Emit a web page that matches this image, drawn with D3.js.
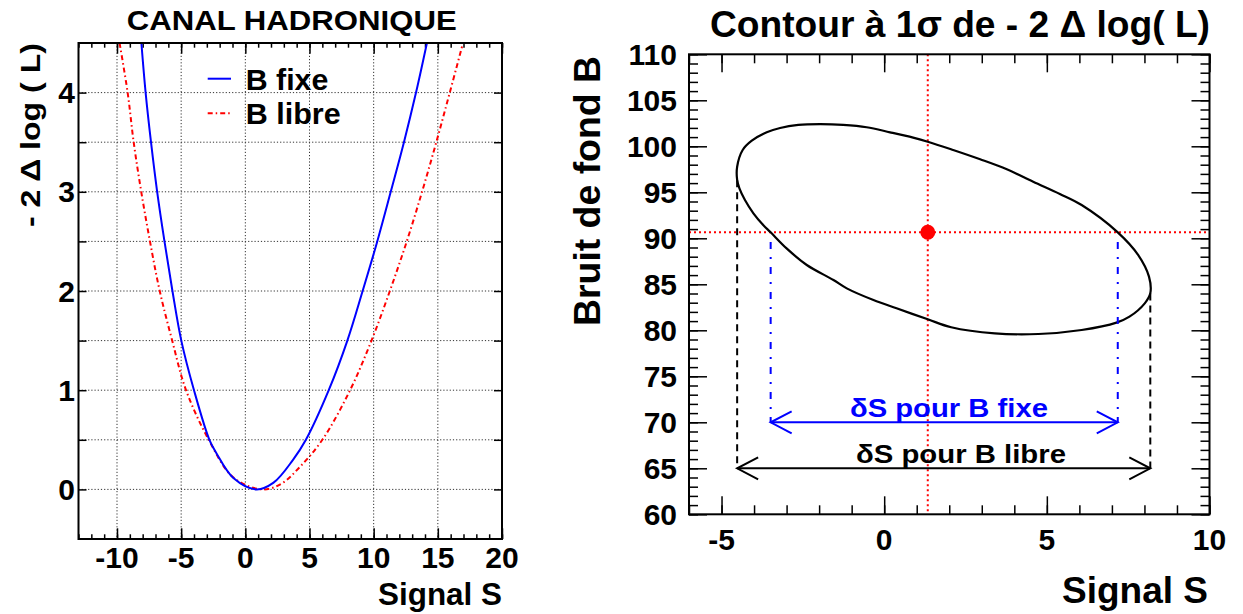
<!DOCTYPE html>
<html><head><meta charset="utf-8">
<script src="https://cdn.jsdelivr.net/npm/d3@7/dist/d3.min.js"></script>
<style>
html,body{margin:0;padding:0;background:#fff;}
svg{display:block;font-family:"Liberation Sans",Arial,Helvetica,sans-serif;font-weight:bold;}
</style></head>
<body>
<svg id="c" width="1243" height="614"></svg>
<script>
// ---------- data : left panel (-2 Δ log L vs S) ----------
const fixeS = [-8.1,-7.77,-7.35,-6.87,-6.3,-5.68,-4.99,-4.0,-2.8,-2.23,-0.93,0.85,2.2,3.7,4.72,6.5,7.95,9.14,10.28,11.33,12.36,13.3,14.15];
const fixeV = [4.5,4.0,3.5,3.0,2.5,2.0,1.5,1.0,0.5,0.36,0.115,0,0.068,0.295,0.5,1.0,1.5,2.0,2.5,3.0,3.5,4.0,4.5];
const libreS = [-9.8,-9.17,-8.7,-8.11,-7.43,-6.67,-5.7,-4.62,-2.85,-0.93,1.37,2.84,4.26,6.0,8.16,9.83,11.26,12.58,13.77,14.88,15.93,16.96];
const libreV = [4.5,4.0,3.5,3.0,2.5,2.0,1.5,1.0,0.5,0.12,0,0.06,0.228,0.5,1.0,1.5,2.0,2.5,3.0,3.5,4.0,4.5];
const leftXTicks = [-10,-5,0,5,10,15,20];
const leftYTicks = [0,1,2,3,4];
const leftYGrid = [0,0.5,1,1.5,2,2.5,3,3.5,4];
const legendLabels = ["B fixe","B libre"];

// ---------- data : right panel (1σ contour in S,B) ----------
const contourS = [-4.52,-4.52,-4.35,-4.07,-3.61,-3.20,-2.64,-1.97,-1.26,-0.54,0.18,0.89,1.34,2.12,2.95,3.77,4.58,5.40,6.07,7.18,7.81,8.14,8.18,8.01,7.54,7.14,6.07,4.74,3.40,2.06,1.34,0.38,-0.33,-1.15,-1.56,-2.38,-3.00,-3.49,-3.72,-4.02,-4.28,-4.45];
const contourB = [96.34,97.78,99.6,100.61,101.52,101.99,102.32,102.4,102.32,102.07,101.52,100.94,100.5,99.6,98.59,97.5,96.15,94.82,93.62,90.65,88.18,85.83,84.02,82.93,81.48,80.83,80.03,79.6,79.67,80.33,81.2,82.39,83.29,84.56,85.47,87.1,88.9,90.65,91.45,92.72,94.16,95.43];
const bestFit = [1.34, 90.65];              // S, B
const fixeInterval = [-3.49, 7.18];         // δS for B fixe
const libreInterval = [-4.52, 8.18];        // δS for B libre
const libreTopB = [96.3, 84.0];             // where dashed verticals start
const fixeTopB = 89.6;
const arrowLevels = [70, 65];               // B of the two arrows
const arrowTexts = ["δS pour B fixe","δS pour B libre"];
const arrowTextS = [1.99, 2.36];
const rightXTicks = [-5,0,5,10];
const rightYTicks = [60,65,70,75,80,85,90,95,100,105,110];

// ---------- drawing ----------
const svg = d3.select("#c");
const FONT = 30;

// LEFT PANEL
const L = {x0:78.5, x1:502, y0:43, y1:539};
const xL = d3.scaleLinear().domain([-13,20]).range([L.x0,L.x1]);
const yL = d3.scaleLinear().domain([-0.5,4.5]).range([L.y1,L.y0]);
const gL = svg.append("g");

// grid
gL.append("g").selectAll("line").data(leftXTicks.filter(v=>v<20)).join("line")
  .attr("x1",d=>xL(d)).attr("x2",d=>xL(d)).attr("y1",L.y0).attr("y2",L.y1)
  .attr("stroke","#333").attr("stroke-width",1).attr("stroke-dasharray","1.2,2");
gL.append("g").selectAll("line").data(leftYGrid).join("line")
  .attr("y1",d=>yL(d)).attr("y2",d=>yL(d)).attr("x1",L.x0).attr("x2",L.x1)
  .attr("stroke","#333").attr("stroke-width",1).attr("stroke-dasharray","1.2,2");

// ticks
function ticks(g, axis, tr){ const a=g.append("g").attr("transform",tr).call(axis); a.select(".domain").remove(); a.selectAll("line").attr("stroke","#000").attr("stroke-width",1.5); return a; }
const minorL = d3.range(-13,21,1);
ticks(gL, d3.axisBottom(xL).tickValues(minorL).tickSize(-4.7).tickFormat(""), `translate(0,${L.y1})`);
ticks(gL, d3.axisBottom(xL).tickValues(leftXTicks).tickSize(-10.7).tickFormat(""), `translate(0,${L.y1})`);
ticks(gL, d3.axisTop(xL).tickValues(minorL).tickSize(-4.7).tickFormat(""), `translate(0,${L.y0})`);
ticks(gL, d3.axisTop(xL).tickValues(leftXTicks).tickSize(-10.7).tickFormat(""), `translate(0,${L.y0})`);
ticks(gL, d3.axisLeft(yL).tickValues(leftYGrid).tickSize(-8).tickFormat(""), `translate(${L.x0},0)`);
ticks(gL, d3.axisRight(yL).tickValues(leftYGrid).tickSize(-8).tickFormat(""), `translate(${L.x1},0)`);

// tick labels
gL.append("g").selectAll("text").data(leftXTicks).join("text")
  .attr("x",d=>xL(d)).attr("y",568).attr("text-anchor","middle").attr("font-size",FONT).text(d=>d);
gL.append("g").selectAll("text").data(leftYTicks).join("text")
  .attr("x",75).attr("y",d=>yL(d)+10.5).attr("text-anchor","end").attr("font-size",FONT).text(d=>d);

// curves
svg.append("clipPath").attr("id","clipL").append("rect")
  .attr("x",L.x0).attr("y",L.y0).attr("width",L.x1-L.x0).attr("height",L.y1-L.y0);
const lineL = d3.line().x(d=>xL(d[0])).y(d=>yL(d[1])).curve(d3.curveCatmullRom.alpha(0.5));
gL.append("path").attr("clip-path","url(#clipL)")
  .attr("d",lineL(libreS.map((s,i)=>[s,libreV[i]])))
  .attr("fill","none").attr("stroke","#ff0000").attr("stroke-width",2).attr("stroke-dasharray","5,3,1.5,3");
gL.append("path").attr("clip-path","url(#clipL)")
  .attr("d",lineL(fixeS.map((s,i)=>[s,fixeV[i]])))
  .attr("fill","none").attr("stroke","#0000ff").attr("stroke-width",2);

// frame
gL.append("rect").attr("x",L.x0).attr("y",L.y0).attr("width",L.x1-L.x0).attr("height",L.y1-L.y0)
  .attr("fill","none").attr("stroke","#000").attr("stroke-width",2);

// legend
const legY = [78.7,113.3];
const legStyle = [{c:"#0000ff",d:null},{c:"#ff0000",d:"5,3,1.5,3"}];
const legW = [82.7,95];
legendLabels.forEach((t,i)=>{
  gL.append("line").attr("x1",207.7).attr("x2",231).attr("y1",legY[i]).attr("y2",legY[i])
    .attr("stroke",legStyle[i].c).attr("stroke-width",2).attr("stroke-dasharray",legStyle[i].d);
  gL.append("text").attr("x",245.7).attr("y",legY[i]+11).attr("font-size",30)
    .attr("textLength",legW[i]).attr("lengthAdjust","spacingAndGlyphs").text(t);
});

// titles
gL.append("text").attr("x",291.7).attr("y",30).attr("text-anchor","middle").attr("font-size",28)
  .attr("textLength",330).attr("lengthAdjust","spacingAndGlyphs").text("CANAL HADRONIQUE");
gL.append("text").attr("x",502).attr("y",605).attr("text-anchor","end").attr("font-size",32)
  .attr("textLength",124).attr("lengthAdjust","spacingAndGlyphs").text("Signal S");
gL.append("text").attr("transform","translate(40,43) rotate(-90)").attr("text-anchor","end").attr("font-size",28)
  .attr("textLength",184).attr("lengthAdjust","spacingAndGlyphs").text("- 2 Δ log ( L)");

// RIGHT PANEL
const R = {x0:689, x1:1209.5, y0:54.3, y1:514.3};
const xR = d3.scaleLinear().domain([-6,10]).range([R.x0,R.x1]);
const yR = d3.scaleLinear().domain([60,110]).range([R.y1,R.y0]);
const gR = svg.append("g");

const minorRX = d3.range(-6,11,1), minorRY = d3.range(60,111,1);
ticks(gR, d3.axisBottom(xR).tickValues(minorRX).tickSize(-9).tickFormat(""), `translate(0,${R.y1})`);
ticks(gR, d3.axisBottom(xR).tickValues(rightXTicks).tickSize(-18).tickFormat(""), `translate(0,${R.y1})`);
ticks(gR, d3.axisTop(xR).tickValues(minorRX).tickSize(-9).tickFormat(""), `translate(0,${R.y0})`);
ticks(gR, d3.axisTop(xR).tickValues(rightXTicks).tickSize(-18).tickFormat(""), `translate(0,${R.y0})`);
ticks(gR, d3.axisLeft(yR).tickValues(minorRY).tickSize(-9).tickFormat(""), `translate(${R.x0},0)`);
ticks(gR, d3.axisLeft(yR).tickValues(rightYTicks).tickSize(-18).tickFormat(""), `translate(${R.x0},0)`);
ticks(gR, d3.axisRight(yR).tickValues(minorRY).tickSize(-9).tickFormat(""), `translate(${R.x1},0)`);
ticks(gR, d3.axisRight(yR).tickValues(rightYTicks).tickSize(-18).tickFormat(""), `translate(${R.x1},0)`);

gR.append("g").selectAll("text").data(rightXTicks).join("text")
  .attr("x",d=>xR(d)).attr("y",550).attr("text-anchor","middle").attr("font-size",FONT).text(d=>d);
gR.append("g").selectAll("text").data(rightYTicks).join("text")
  .attr("x",677).attr("y",d=>yR(d)+10.5).attr("text-anchor","end").attr("font-size",FONT).text(d=>d);

// red cross lines through best fit
gR.append("line").attr("x1",xR(bestFit[0])).attr("x2",xR(bestFit[0])).attr("y1",R.y0).attr("y2",R.y1)
  .attr("stroke","#ff0000").attr("stroke-width",2).attr("stroke-dasharray","2,3");
gR.append("line").attr("y1",yR(bestFit[1])).attr("y2",yR(bestFit[1])).attr("x1",R.x0).attr("x2",R.x1)
  .attr("stroke","#ff0000").attr("stroke-width",2).attr("stroke-dasharray","2,3");

// contour
const lineR = d3.line().x(d=>xR(d[0])).y(d=>yR(d[1])).curve(d3.curveCatmullRomClosed.alpha(0.5));
gR.append("path").attr("d",lineR(contourS.map((s,i)=>[s,contourB[i]])))
  .attr("fill","none").attr("stroke","#000").attr("stroke-width",2.2);

// dashed verticals
libreInterval.forEach((s,i)=>{
  gR.append("line").attr("x1",xR(s)).attr("x2",xR(s)).attr("y1",yR(libreTopB[i])).attr("y2",yR(arrowLevels[1]))
    .attr("stroke","#000").attr("stroke-width",2).attr("stroke-dasharray","7,5");
});
fixeInterval.forEach(s=>{
  gR.append("line").attr("x1",xR(s)).attr("x2",xR(s)).attr("y1",yR(fixeTopB)).attr("y2",yR(arrowLevels[0]))
    .attr("stroke","#0000ff").attr("stroke-width",2).attr("stroke-dasharray","7,8,2,8");
});

// arrows
function arrow(interval, B, color){
  const xa = xR(interval[0]), xb = xR(interval[1]), y = yR(B);
  gR.append("line").attr("x1",xa).attr("x2",xb).attr("y1",y).attr("y2",y).attr("stroke",color).attr("stroke-width",2);
  gR.append("path").attr("d",`M${xa+21},${y-11}L${xa},${y}L${xa+21},${y+11}`).attr("fill","none").attr("stroke",color).attr("stroke-width",2);
  gR.append("path").attr("d",`M${xb-21},${y-11}L${xb},${y}L${xb-21},${y+11}`).attr("fill","none").attr("stroke",color).attr("stroke-width",2);
}
arrow(fixeInterval, arrowLevels[0], "#0000ff");
arrow(libreInterval, arrowLevels[1], "#000");
const arrowCol = ["#0000ff","#000"], arrowTW = [198,210];
arrowTexts.forEach((t,i)=>{
  gR.append("text").attr("x",xR(arrowTextS[i])).attr("y",yR(arrowLevels[i])-5).attr("text-anchor","middle")
    .attr("font-size",25).attr("fill",arrowCol[i]).attr("textLength",arrowTW[i]).attr("lengthAdjust","spacingAndGlyphs").text(t);
});

// best fit point
gR.append("circle").attr("cx",xR(bestFit[0])).attr("cy",yR(bestFit[1])).attr("r",7.5).attr("fill","#ff0000");

// frame
gR.append("rect").attr("x",R.x0).attr("y",R.y0).attr("width",R.x1-R.x0).attr("height",R.y1-R.y0)
  .attr("fill","none").attr("stroke","#000").attr("stroke-width",2);

// titles
gR.append("text").attr("x",1210).attr("y",36.5).attr("text-anchor","end").attr("font-size",36)
  .attr("textLength",500).attr("lengthAdjust","spacingAndGlyphs").text("Contour à 1σ de - 2 Δ log( L)");
gR.append("text").attr("x",1208).attr("y",603).attr("text-anchor","end").attr("font-size",37)
  .attr("textLength",146).attr("lengthAdjust","spacingAndGlyphs").text("Signal S");
gR.append("text").attr("transform","translate(600,56) rotate(-90)").attr("text-anchor","end").attr("font-size",37)
  .attr("textLength",270).attr("lengthAdjust","spacingAndGlyphs").text("Bruit de fond B");
</script>
</body></html>
